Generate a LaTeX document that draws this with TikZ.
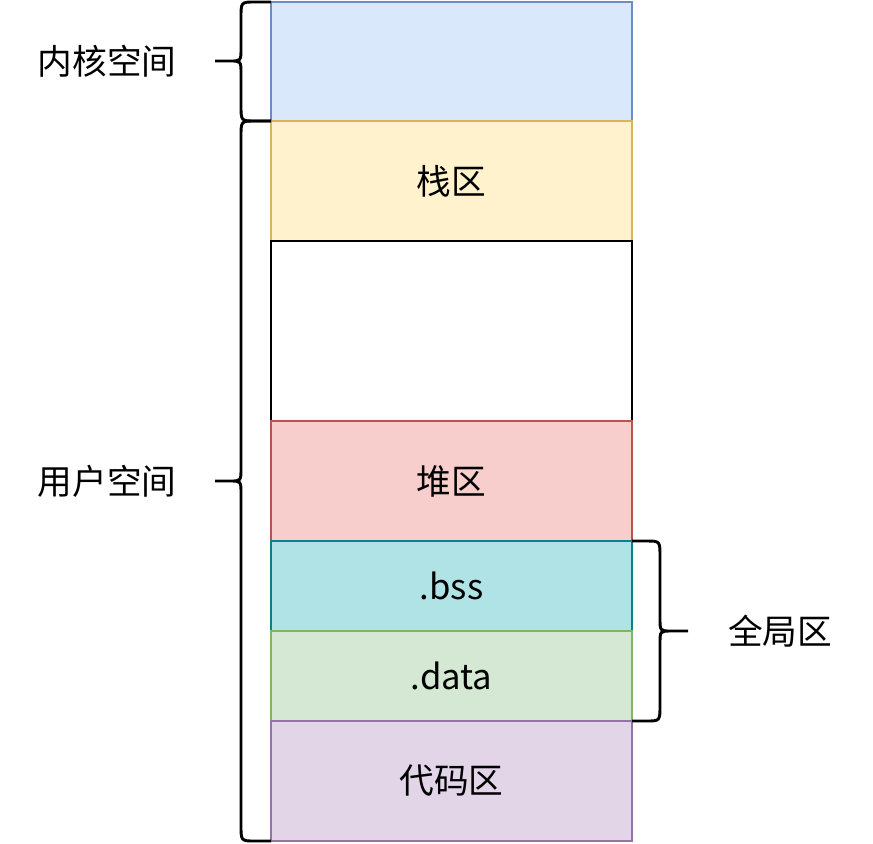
\documentclass[tikz,border=0pt]{standalone}
\usepackage{fontspec}
\setmainfont{Noto Sans CJK SC}
\usepackage{tikz}

\definecolor{blueFill}{HTML}{DAE8FC}\definecolor{blueLine}{HTML}{6C8EBF}
\definecolor{yellowFill}{HTML}{FFF2CC}\definecolor{yellowLine}{HTML}{D6B656}
\definecolor{redFill}{HTML}{F8CECC}\definecolor{redLine}{HTML}{B85450}
\definecolor{tealFill}{HTML}{B0E3E6}\definecolor{tealLine}{HTML}{0E8088}
\definecolor{greenFill}{HTML}{D5E8D4}\definecolor{greenLine}{HTML}{82B366}
\definecolor{purpleFill}{HTML}{E1D5E7}\definecolor{purpleLine}{HTML}{9673A6}

\begin{document}
\begin{tikzpicture}[
    x=0.75pt, y=-0.75pt,
    font=\fontsize{26}{30}\selectfont,
    seg/.style={draw, line width=2pt, anchor=north west, inner sep=0pt,
      outer sep=0pt, minimum width=361*0.75pt},
    brace/.style={line width=2.2pt},
  ]
  \useasboundingbox (0,0) rectangle (873,843);
  %% ---- memory segments ----------------------------------------------
  \node[seg, fill=blueFill, draw=blueLine, minimum height=119*0.75pt] (kernel) at (271,2) {};
  \node[seg, fill=yellowFill, draw=yellowLine, minimum height=120*0.75pt] (stack) at (271,121) {栈区};
  \node[seg, fill=white, draw=black, minimum height=180*0.75pt] (free) at (271,241) {};
  \node[seg, fill=redFill, draw=redLine, minimum height=120*0.75pt] (heap) at (271,421) {堆区};
  \node[seg, fill=tealFill, draw=tealLine, minimum height=90*0.75pt] (bss) at (271,541) {.bss};
  \node[seg, fill=greenFill, draw=greenLine, minimum height=90*0.75pt] (data) at (271,631) {.data};
  \node[seg, fill=purpleFill, draw=purpleLine, minimum height=120*0.75pt] (code) at (271,721) {代码区};

  %% ---- braces --------------------------------------------------------
  \draw[brace] (kernel.north west) -- (255,2) .. controls (241,2) .. (241,18)
    -- (241,48) .. controls (241,61) .. (230,61) -- (215,61)
    (230,61) .. controls (241,61) .. (241,74) -- (241,105)
    .. controls (241,121) .. (255,121) -- (kernel.south west);
  \draw[brace] (stack.north west) -- (255,121) .. controls (241,121) .. (241,137)
    -- (241,468) .. controls (241,481) .. (230,481) -- (215,481)
    (230,481) .. controls (241,481) .. (241,494) -- (241,825)
    .. controls (241,841) .. (255,841) -- (code.south west);
  \draw[brace] (bss.north east) -- (646,541) .. controls (660,541) .. (660,557)
    -- (660,618) .. controls (660,631) .. (671,631) -- (688,631)
    (671,631) .. controls (660,631) .. (660,644) -- (660,705)
    .. controls (660,721) .. (646,721) -- (data.south east);

  %% ---- labels --------------------------------------------------------
  \node (kernelLab) at (107,61) {内核空间};
  \node (userLab) at (107,481) {用户空间};
  \node (globalLab) at (780,631) {全局区};
\end{tikzpicture}
\end{document}
